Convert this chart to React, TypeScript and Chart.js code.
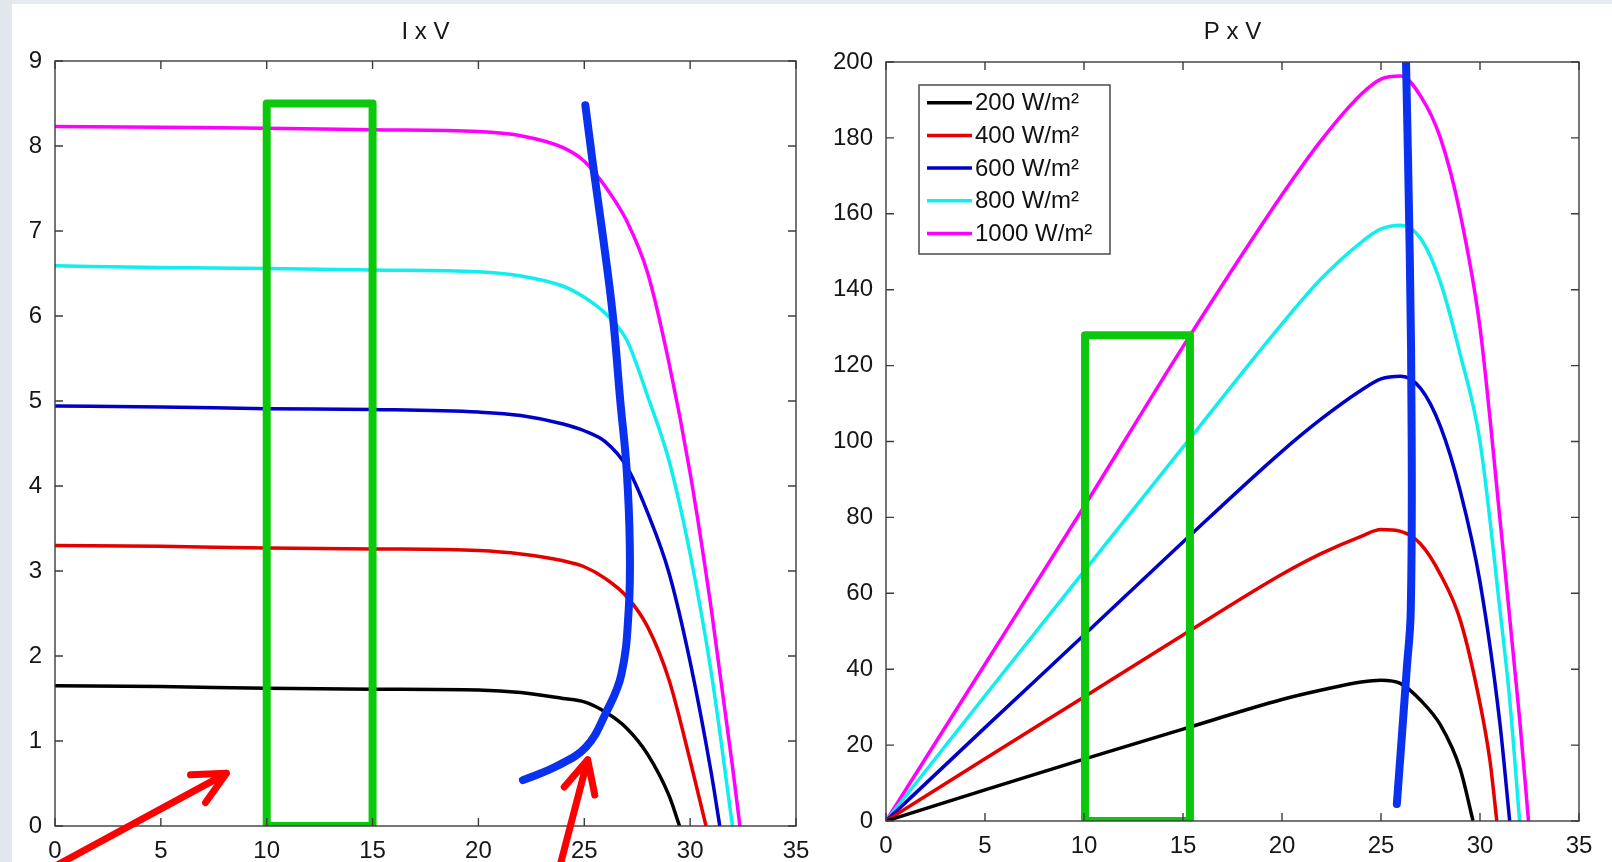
import React, { useEffect, useRef } from 'react';
import { Chart, registerables } from 'chart.js';

Chart.register(...registerables);

const FONT = "'Liberation Sans', Arial, Helvetica, sans-serif";

// ---------- shared ----------
const seriesLabels = ['200 W/m²', '400 W/m²', '600 W/m²', '800 W/m²', '1000 W/m²'];
const seriesColors = ['#000000', '#e50000', '#0000c8', '#10eeee', '#ff00ff'];
const xTicks = [0, 5, 10, 15, 20, 25, 30, 35];
const ivYTicks = [0, 1, 2, 3, 4, 5, 6, 7, 8, 9];
const pvYTicks = [0, 20, 40, 60, 80, 100, 120, 140, 160, 180, 200];

// ---------- I x V (current vs voltage) ----------
const ivV200 = [0, 5, 10, 15, 20, 22, 24, 25, 26, 27, 28, 29, 29.5];
const ivI200 = [1.65, 1.64, 1.62, 1.61, 1.6, 1.57, 1.5, 1.46, 1.34, 1.15, 0.84, 0.36, 0];
const ivV400 = [0, 5, 10, 15, 20, 22, 24, 25, 26, 27, 28, 29, 30, 30.75];
const ivI400 = [3.3, 3.29, 3.27, 3.26, 3.24, 3.2, 3.12, 3.05, 2.91, 2.7, 2.34, 1.72, 0.77, 0];
const ivV600 = [0, 5, 10, 15, 20, 22, 24, 25, 26, 27, 28, 29, 30, 31, 31.4];
const ivI600 = [4.94, 4.93, 4.91, 4.9, 4.87, 4.83, 4.73, 4.65, 4.52, 4.23, 3.68, 2.98, 1.93, 0.62, 0];
const ivV800 = [0, 5, 10, 15, 20, 22, 24, 25, 26, 27, 28, 29, 30, 31, 32];
const ivI800 = [6.59, 6.57, 6.56, 6.54, 6.52, 6.47, 6.35, 6.22, 6.03, 5.72, 5.05, 4.3, 3.2, 1.8, 0];
const ivV1000 = [0, 5, 10, 15, 20, 22, 24, 25, 26, 27, 28, 29, 30, 31, 32, 32.35];
const ivI1000 = [8.23, 8.22, 8.21, 8.19, 8.17, 8.12, 7.98, 7.82, 7.52, 7.12, 6.5, 5.45, 4.15, 2.55, 0.7, 0];

// annotations on I x V
const ivBoxV = [10, 10, 15, 15, 10];
const ivBoxI = [0, 8.5, 8.5, 0, 0];
const ivMppV = [25.05, 25.4, 25.9, 26.35, 26.7, 27.0, 27.15, 27.1, 26.75, 26.02, 25.08, 23.66, 22.1];
const ivMppI = [8.48, 7.8, 6.9, 6.0, 5.0, 4.2, 3.3, 2.55, 1.78, 1.33, 0.93, 0.7, 0.54];
const ivArrowTailV = [-0.2, 23.82];
const ivArrowTailI = [-0.5, -0.5];
const ivArrowTipV = [8.1, 25.16];
const ivArrowTipI = [0.62, 0.78];

// ---------- P x V (power vs voltage) ----------
const pvV200 = [0, 5, 10, 15, 20, 22, 24, 25, 26, 27, 28, 29, 29.65];
const pvP200 = [0, 8.2, 16.3, 24.2, 32, 34.5, 36.6, 37.1, 36.2, 31.8, 25.3, 13.7, 0];
const pvV400 = [0, 5, 10, 15, 20, 22, 24, 25, 26, 27, 28, 29, 30, 30.5, 30.85];
const pvP400 = [0, 16.4, 32.7, 49, 65, 70.5, 75, 76.8, 76.3, 73, 65, 53, 31, 16, 0];
const pvV600 = [0, 5, 10, 15, 20, 22, 24, 25, 26, 27, 28, 29, 30, 31, 31.5];
const pvP600 = [0, 24.6, 49, 73.5, 97.4, 106, 113.5, 116.5, 117.2, 114, 104, 87, 63, 26, 0];
const pvV800 = [0, 5, 10, 15, 20, 22, 24, 25, 26, 27, 28, 29, 30, 31, 31.5, 32];
const pvP800 = [0, 33, 65.8, 98.5, 131, 143, 152.5, 156, 157, 153.5, 142, 123, 100, 56, 32, 0];
const pvV1000 = [0, 5, 10, 15, 20, 22, 24, 25, 26, 27, 28, 29, 30, 31, 32, 32.45];
const pvP1000 = [0, 41.3, 82.8, 125, 165, 179.5, 191.5, 195.5, 196.3, 191, 180, 160, 130, 80, 27, 0];

// annotations on P x V
const pvBoxV = [10.05, 10.05, 15.35, 15.35, 10.05];
const pvBoxP = [0, 128, 128, 0, 0];
const pvMppV = [26.26, 26.45, 26.55, 26.5, 26.3, 26.02, 25.8];
const pvMppP = [201, 150, 100, 55, 40, 20, 4.5];

const toPts = (xs: number[], ys: number[]) => xs.map((x, i) => ({ x, y: ys[i] }));

const seriesDataset = (i: number, xs: number[], ys: number[]) => ({
  label: seriesLabels[i],
  data: toPts(xs, ys),
  borderColor: seriesColors[i],
  backgroundColor: seriesColors[i],
  borderWidth: 3.5,
  pointRadius: 0,
  cubicInterpolationMode: 'monotone',
  fill: false,
  order: 1,
  isSeries: true,
});

const annotationDataset = (xs: number[], ys: number[], color: string, tension: number) => ({
  label: '',
  data: toPts(xs, ys),
  borderColor: color,
  backgroundColor: color,
  borderWidth: 8,
  pointRadius: 0,
  tension,
  fill: false,
  order: 0,
  borderCapStyle: 'round',
  borderJoinStyle: 'round',
  isSeries: false,
});

// ---------- plugins ----------
const boxPlugin = {
  id: 'matlabBox',
  afterDraw(chart: any) {
    const { ctx, chartArea, scales } = chart;
    const { left, right, top, bottom } = chartArea;
    ctx.save();
    ctx.strokeStyle = '#3c3c3c';
    ctx.lineWidth = 1.4;
    ctx.strokeRect(left, top, right - left, bottom - top);
    const tl = 8;
    ctx.beginPath();
    scales.x.ticks.forEach((t: any) => {
      const px = scales.x.getPixelForValue(t.value);
      ctx.moveTo(px, bottom);
      ctx.lineTo(px, bottom - tl);
      ctx.moveTo(px, top);
      ctx.lineTo(px, top + tl);
    });
    scales.y.ticks.forEach((t: any) => {
      const py = scales.y.getPixelForValue(t.value);
      ctx.moveTo(left, py);
      ctx.lineTo(left + tl, py);
      ctx.moveTo(right, py);
      ctx.lineTo(right - tl, py);
    });
    ctx.stroke();
    ctx.restore();
  },
};

const insetLegendPlugin = {
  id: 'insetLegend',
  afterDraw(chart: any, _args: any, opts: any) {
    if (!opts || !opts.display) return;
    const { ctx, chartArea } = chart;
    const x = chartArea.left + opts.offsetX;
    const y = chartArea.top + opts.offsetY;
    ctx.save();
    ctx.fillStyle = '#ffffff';
    ctx.fillRect(x, y, opts.width, opts.height);
    ctx.strokeStyle = '#4a4a4a';
    ctx.lineWidth = 1.5;
    ctx.strokeRect(x, y, opts.width, opts.height);
    ctx.font = `${opts.fontSize}px ${FONT}`;
    ctx.textBaseline = 'middle';
    ctx.textAlign = 'left';
    const items = chart.data.datasets.filter((d: any) => d.isSeries);
    items.forEach((d: any, i: number) => {
      const cy = y + opts.firstRow + i * opts.rowGap;
      ctx.strokeStyle = d.borderColor;
      ctx.lineWidth = 3.5;
      ctx.beginPath();
      ctx.moveTo(x + opts.lineStart, cy);
      ctx.lineTo(x + opts.lineEnd, cy);
      ctx.stroke();
      ctx.fillStyle = '#111111';
      ctx.fillText(d.label, x + opts.textStart, cy + 1);
    });
    ctx.restore();
  },
};

const arrowPlugin = {
  id: 'arrows',
  afterDraw(chart: any, _args: any, opts: any) {
    if (!opts || !opts.tails) return;
    const { ctx, scales } = chart;
    ctx.save();
    ctx.strokeStyle = opts.color;
    ctx.lineWidth = opts.width;
    ctx.lineCap = 'round';
    ctx.lineJoin = 'round';
    opts.tails.forEach((tail: any, i: number) => {
      const tip = opts.tips[i];
      const x0 = scales.x.getPixelForValue(tail.x);
      const y0 = scales.y.getPixelForValue(tail.y);
      const x1 = scales.x.getPixelForValue(tip.x);
      const y1 = scales.y.getPixelForValue(tip.y);
      const ang = Math.atan2(y0 - y1, x0 - x1);
      const a = (opts.headAngle * Math.PI) / 180;
      ctx.beginPath();
      ctx.moveTo(x0, y0);
      ctx.lineTo(x1, y1);
      ctx.moveTo(x1 + opts.headLength * Math.cos(ang + a), y1 + opts.headLength * Math.sin(ang + a));
      ctx.lineTo(x1, y1);
      ctx.lineTo(x1 + opts.headLength * Math.cos(ang - a), y1 + opts.headLength * Math.sin(ang - a));
      ctx.stroke();
    });
    ctx.restore();
  },
};

const tickFont = { family: FONT, size: 24 };
const TEXT = '#161616';

function makeConfig(opts: any) {
  return {
    type: 'line',
    data: { datasets: opts.datasets },
    plugins: [boxPlugin, insetLegendPlugin, arrowPlugin],
    options: {
      animation: false,
      responsive: false,
      maintainAspectRatio: false,
      devicePixelRatio: 1,
      layout: { padding: { left: 0, right: opts.padRight, top: 0, bottom: 0 } },
      elements: { point: { radius: 0 } },
      plugins: {
        legend: { display: false },
        tooltip: { enabled: false },
        title: {
          display: true,
          fullSize: false,
          text: opts.title,
          color: TEXT,
          font: { family: FONT, size: 24, weight: 'normal' },
          padding: { top: 18, bottom: opts.titleBottom },
        },
        insetLegend: opts.legend,
        arrows: opts.arrows,
      },
      scales: {
        x: {
          type: 'linear',
          min: xTicks[0],
          max: xTicks[xTicks.length - 1],
          afterBuildTicks: (s: any) => {
            s.ticks = xTicks.map((v) => ({ value: v }));
          },
          ticks: { font: tickFont, color: TEXT, padding: 3, maxRotation: 0, autoSkip: false },
          grid: { display: false },
          border: { display: false },
          afterFit: (s: any) => {
            s.height = opts.xHeight;
          },
        },
        y: {
          type: 'linear',
          min: opts.yTicks[0],
          max: opts.yTicks[opts.yTicks.length - 1],
          afterBuildTicks: (s: any) => {
            s.ticks = opts.yTicks.map((v: number) => ({ value: v }));
          },
          ticks: { font: tickFont, color: TEXT, padding: 5, autoSkip: false },
          grid: { display: false },
          border: { display: false },
          afterFit: (s: any) => {
            s.width = opts.yWidth;
          },
        },
      },
    },
  } as any;
}

export default function App() {
  const leftRef = useRef<HTMLCanvasElement | null>(null);
  const rightRef = useRef<HTMLCanvasElement | null>(null);

  useEffect(() => {
    const ivDatasets = [
      seriesDataset(0, ivV200, ivI200),
      seriesDataset(1, ivV400, ivI400),
      seriesDataset(2, ivV600, ivI600),
      seriesDataset(3, ivV800, ivI800),
      seriesDataset(4, ivV1000, ivI1000),
      annotationDataset(ivBoxV, ivBoxI, '#0cc80c', 0),
      annotationDataset(ivMppV, ivMppI, '#0a30f0', 0.4),
    ];
    const pvDatasets = [
      seriesDataset(0, pvV200, pvP200),
      seriesDataset(1, pvV400, pvP400),
      seriesDataset(2, pvV600, pvP600),
      seriesDataset(3, pvV800, pvP800),
      seriesDataset(4, pvV1000, pvP1000),
      annotationDataset(pvBoxV, pvBoxP, '#0cc80c', 0),
      annotationDataset(pvMppV, pvMppP, '#0a30f0', 0.4),
    ];

    const left = new Chart(
      leftRef.current as HTMLCanvasElement,
      makeConfig({
        datasets: ivDatasets,
        title: 'I x V',
        titleBottom: 14.2,
        padRight: 24,
        xHeight: 36,
        yWidth: 55,
        yTicks: ivYTicks,
        legend: { display: false },
        arrows: {
          tails: toPts(ivArrowTailV, ivArrowTailI),
          tips: toPts(ivArrowTipV, ivArrowTipI),
          color: '#ff0000',
          width: 7,
          headLength: 36,
          headAngle: 26,
        },
      })
    );
    const right = new Chart(
      rightRef.current as HTMLCanvasElement,
      makeConfig({
        datasets: pvDatasets,
        title: 'P x V',
        titleBottom: 15.2,
        padRight: 33,
        xHeight: 41,
        yWidth: 66,
        yTicks: pvYTicks,
        legend: {
          display: true,
          offsetX: 33,
          offsetY: 23,
          width: 191,
          height: 169,
          firstRow: 17.7,
          rowGap: 32.7,
          lineStart: 8,
          lineEnd: 53,
          textStart: 56,
          fontSize: 24,
        },
        arrows: {},
      })
    );
    return () => {
      left.destroy();
      right.destroy();
    };
  }, []);

  return (
    <div
      style={{
        position: 'fixed',
        left: 0,
        top: 0,
        width: 1612,
        height: 862,
        background: '#ffffff',
        overflow: 'hidden',
      }}
    >
      <div style={{ position: 'absolute', left: 0, top: 0, width: 1612, height: 4, background: '#e4eaef' }} />
      <div style={{ position: 'absolute', left: 0, top: 0, width: 12, height: 862, background: '#e1e7ed' }} />
      <canvas
        ref={leftRef}
        width={820}
        height={862}
        style={{ position: 'absolute', left: 0, top: 0, width: 820, height: 862, display: 'block' }}
      />
      <canvas
        ref={rightRef}
        width={792}
        height={862}
        style={{ position: 'absolute', left: 820, top: 0, width: 792, height: 862, display: 'block' }}
      />
    </div>
  );
}
